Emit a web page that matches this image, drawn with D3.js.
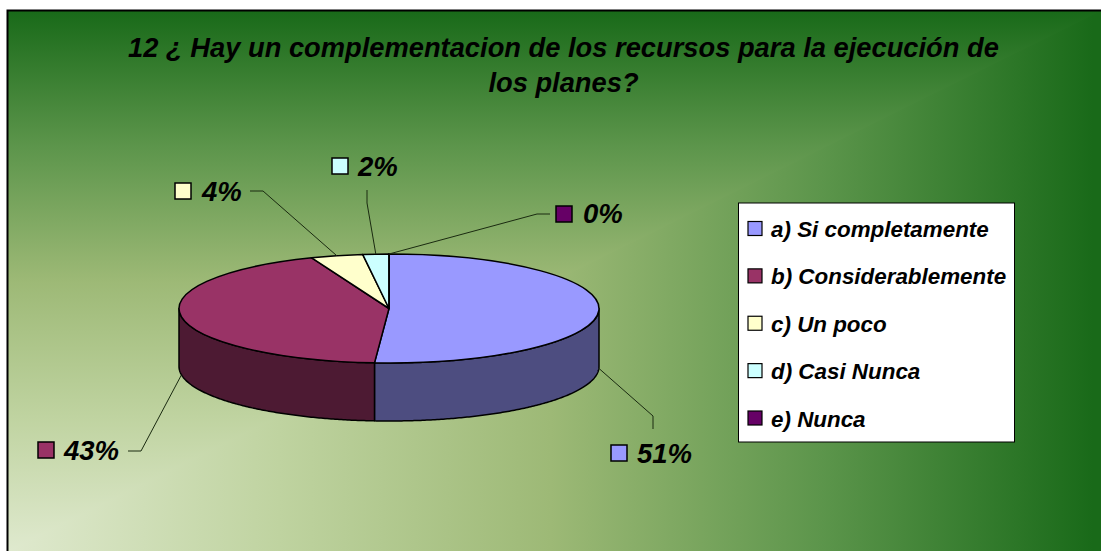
<!DOCTYPE html>
<html>
<head>
<meta charset="utf-8">
<script src="https://cdn.jsdelivr.net/npm/d3@7"></script>
<style>
    html, body { margin: 0; padding: 0; background: #fff; }
    svg { display: block; }
    text { font-family: "Liberation Sans", Arial, sans-serif; font-weight: bold; font-style: italic; fill: #000; }
</style>
</head>
<body>
<svg id="chart"></svg>
<script>
// data
const categories = ["a) Si completamente", "b) Considerablemente", "c) Un poco", "d) Casi Nunca", "e) Nunca"];
// shares, the labels show them rounded
const shares = [51.1, 42.9, 4, 2, 0];
const topColors = ["#9999ff", "#993366", "#ffffcc", "#ccffff", "#660066"];
const sideColors = ["#4d4d80", "#4d1a33", "#808066", "#668080", "#330033"];
const titleLines = ["12 ¿ Hay un complementacion de los recursos para la ejecución de", "los planes?"];

const w = 1101;
const h = 551;

// size of chart area (border sits just inside the white edge)
const frame = { left: 8, top: 11, right: 1101, bottom: 551 };

// pie geometry
const pieGeo = { cx: 389, cy: 308.5, rx: 210, ry: 54.5, depth: 58 };

// where each data label sits: swatch corner, text start, line elbows
const labelLayout = [
    { sx: 611, sy: 445, tx: 637, ty: 463, line: [[653, 416], [653, 429]] },
    { sx: 38, sy: 442, tx: 64, ty: 460, line: [[141, 451], [128, 451]] },
    { sx: 175, sy: 183, tx: 202, ty: 201, line: [[263, 191], [250, 191]] },
    { sx: 332, sy: 158, tx: 358, ty: 176, line: [[367, 203], [367, 190]] },
    { sx: 556, sy: 206, tx: 583, ty: 223, line: [[537, 214], [550, 214]] }
];

const svg = d3.select("#chart").attr("width", w).attr("height", h);
const defs = svg.append("defs");

// background is a "from corner" fill: rectangular bands round the bottom left corner
const bgStops = [
    [0, "#dfe9ce"], [0.25, "#bfd3a0"], [0.5, "#9db976"], [0.75, "#5c954b"], [1, "#196a19"]
];

function addGradient(id, x1, y1, x2, y2) {
    const g = defs.append("linearGradient")
        .attr("id", id)
        .attr("gradientUnits", "userSpaceOnUse")
        .attr("x1", x1).attr("y1", y1)
        .attr("x2", x2).attr("y2", y2);
    g.selectAll("stop")
        .data(bgStops)
        .join("stop")
        .attr("offset", d => d[0])
        .attr("stop-color", d => d[1]);
}
addGradient("bgUp", 0, frame.bottom, 0, frame.top);
addGradient("bgRight", frame.left, 0, frame.right - 8, 0);

// full rect first, then the upper triangle on top so there is no seam on the diagonal
svg.append("rect")
    .attr("x", frame.left)
    .attr("y", frame.top)
    .attr("width", frame.right - frame.left)
    .attr("height", frame.bottom - frame.top)
    .attr("fill", "url(#bgRight)");

svg.append("polygon")
    .attr("points", [[frame.left, frame.bottom], [frame.left, frame.top], [frame.right, frame.top]].join(" "))
    .attr("fill", "url(#bgUp)");

// only top and left border show, the rest runs off the picture
svg.append("path")
    .attr("d", d3.line()([[frame.left - 0.5, h], [frame.left - 0.5, frame.top - 0.5], [w, frame.top - 0.5]]))
    .attr("fill", "none")
    .attr("stroke", "#000")
    .attr("stroke-width", 2);

// title
svg.append("g").selectAll("text")
    .data(titleLines)
    .join("text")
    .attr("x", 563.5)
    .attr("y", (d, i) => 56.5 + i * 35.5)
    .attr("text-anchor", "middle")
    .style("font-size", "27.3px")
    .text(d => d);

// pie
const pie = d3.pie().sort(null).value(d => d);
const slices = pie(shares);
const xAt = a => pieGeo.cx + pieGeo.rx * Math.sin(a);
const yAt = a => pieGeo.cy - pieGeo.ry * Math.cos(a);

// side wall: only the front half of the ellipse can be seen
const sideArea = d3.area()
    .x(a => xAt(a))
    .y0(a => yAt(a))
    .y1(a => yAt(a) + pieGeo.depth);

const sides = slices
    .map((s, i) => ({
        i: i,
        a0: Math.max(s.startAngle, Math.PI / 2),
        a1: Math.min(s.endAngle, Math.PI * 1.5)
    }))
    .filter(s => s.a1 > s.a0);

svg.append("g").selectAll("path")
    .data(sides)
    .join("path")
    .attr("d", s => sideArea(d3.range(s.a0, s.a1, 0.01).concat(s.a1)))
    .attr("fill", s => sideColors[s.i])
    .attr("stroke", "#000")
    .attr("stroke-width", 1.5)
    .attr("stroke-linejoin", "round");

// top face: normal arc squashed into an ellipse
const arc = d3.arc().innerRadius(0).outerRadius(pieGeo.rx);
svg.append("g")
    .attr("transform", `translate(${pieGeo.cx},${pieGeo.cy}) scale(1,${pieGeo.ry / pieGeo.rx})`)
    .selectAll("path")
    .data(slices)
    .join("path")
    .attr("d", arc)
    .attr("fill", (d, i) => topColors[i])
    .attr("stroke", "#000")
    .attr("stroke-width", 1.5)
    .attr("stroke-linejoin", "round")
    .attr("vector-effect", "non-scaling-stroke");

// leader lines start on the pie edge at the middle of the slice
function anchor(s) {
    const mid = (s.startAngle + s.endAngle) / 2;
    const front = mid >= Math.PI / 2 && mid <= Math.PI * 1.5;
    return [xAt(mid), yAt(mid) + (front ? pieGeo.depth : 0)];
}

svg.append("g").selectAll("path")
    .data(slices)
    .join("path")
    .attr("d", (s, i) => d3.line()([anchor(s)].concat(labelLayout[i].line)))
    .attr("fill", "none")
    .attr("stroke", "#1a2a10")
    .attr("stroke-width", 1);

// data labels
const labels = svg.append("g").selectAll("g")
    .data(shares)
    .join("g");

labels.append("rect")
    .attr("x", (d, i) => labelLayout[i].sx)
    .attr("y", (d, i) => labelLayout[i].sy)
    .attr("width", 16)
    .attr("height", 16)
    .attr("fill", (d, i) => topColors[i])
    .attr("stroke", "#000")
    .attr("stroke-width", 1.5);

labels.append("text")
    .attr("x", (d, i) => labelLayout[i].tx)
    .attr("y", (d, i) => labelLayout[i].ty)
    .style("font-size", "27.5px")
    .text(d => Math.round(d) + "%");

// legend
const legendBox = { x: 738.5, y: 203, width: 276, height: 239 };
const rowScale = d3.scalePoint()
    .domain(categories)
    .range([228.5, 418]);

svg.append("rect")
    .attr("x", legendBox.x)
    .attr("y", legendBox.y)
    .attr("width", legendBox.width)
    .attr("height", legendBox.height)
    .attr("fill", "#fff")
    .attr("stroke", "#000")
    .attr("stroke-width", 1);

const rows = svg.append("g").selectAll("g")
    .data(categories)
    .join("g")
    .attr("transform", d => `translate(748,${rowScale(d)})`);

rows.append("rect")
    .attr("y", -7)
    .attr("width", 14)
    .attr("height", 14)
    .attr("fill", (d, i) => topColors[i])
    .attr("stroke", "#000")
    .attr("stroke-width", 1.2);

rows.append("text")
    .attr("x", 23)
    .attr("y", 8.5)
    .style("font-size", "22.4px")
    .text(d => d);
</script>
</body>
</html>
